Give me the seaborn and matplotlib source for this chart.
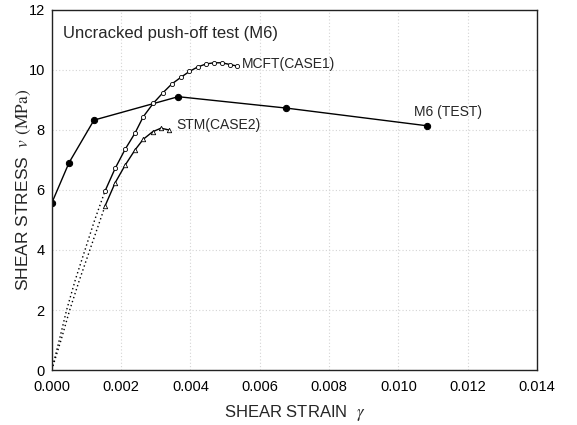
import matplotlib
matplotlib.use("Agg")
import matplotlib.pyplot as plt
import seaborn as sns
import pandas as pd

# M6 test
m6_strain = [0.0, 0.0005, 0.00122, 0.00365, 0.00677, 0.01083]
m6_stress = [5.56, 6.91, 8.33, 9.11, 8.73, 8.14]

# MCFT (CASE1)
mcft_strain = [0.00154, 0.00183, 0.00212, 0.00240, 0.00264, 0.00293, 0.00320, 0.00346,
               0.00372, 0.00397, 0.00421, 0.00445, 0.00468, 0.00491, 0.00515, 0.00535]
mcft_stress = [5.97, 6.72, 7.36, 7.89, 8.44, 8.89, 9.23, 9.53,
               9.75, 9.95, 10.10, 10.20, 10.24, 10.24, 10.18, 10.13]

# STM (CASE2)
stm_strain = [0.00154, 0.00183, 0.00212, 0.00240, 0.00264, 0.00291, 0.00315, 0.00339]
stm_stress = [5.47, 6.24, 6.83, 7.33, 7.69, 7.94, 8.06, 8.00]

# dotted pre-cracking branches
pre1_strain = [0.0, 0.00022, 0.00043, 0.00068, 0.00096, 0.00124, 0.00154]
pre1_stress = [0.0, 1.0, 2.0, 3.0, 4.0, 5.0, 5.97]
pre2_strain = [0.0, 0.00027, 0.00052, 0.00080, 0.00110, 0.00140, 0.00154]
pre2_stress = [0.0, 1.0, 2.0, 3.0, 4.0, 5.0, 5.47]

x_ticks = [0.000, 0.002, 0.004, 0.006, 0.008, 0.010, 0.012, 0.014]
y_ticks = [0, 2, 4, 6, 8, 10, 12]

sns.set_theme(style="white")
plt.rcParams['font.family'] = ['Liberation Sans', 'DejaVu Sans']
plt.rcParams['mathtext.fontset'] = 'stix'

fig = plt.figure(figsize=(5.77, 4.25), dpi=100)
ax = fig.add_axes([0.0896, 0.1294, 0.8411, 0.8471])

df_m6 = pd.DataFrame({"x": m6_strain, "y": m6_stress})
df_mcft = pd.DataFrame({"x": mcft_strain, "y": mcft_stress})
df_stm = pd.DataFrame({"x": stm_strain, "y": stm_stress})
df_p1 = pd.DataFrame({"x": pre1_strain, "y": pre1_stress})
df_p2 = pd.DataFrame({"x": pre2_strain, "y": pre2_stress})

sns.lineplot(data=df_p1, x="x", y="y", sort=False, ax=ax, color="black",
             linestyle=(0, (1, 2)), linewidth=1.0, estimator=None)
sns.lineplot(data=df_p2, x="x", y="y", sort=False, ax=ax, color="black",
             linestyle=(0, (1, 2)), linewidth=1.0, estimator=None)
sns.lineplot(data=df_m6, x="x", y="y", sort=False, ax=ax, color="black",
             linewidth=1.0, marker="o", markersize=4.5, markerfacecolor="black",
             markeredgecolor="black", estimator=None)
sns.lineplot(data=df_mcft, x="x", y="y", sort=False, ax=ax, color="black",
             linewidth=1.0, marker="o", markersize=3, markerfacecolor="white",
             markeredgecolor="black", markeredgewidth=0.6, estimator=None)
sns.lineplot(data=df_stm, x="x", y="y", sort=False, ax=ax, color="black",
             linewidth=1.0, marker="^", markersize=3.2, markerfacecolor="white",
             markeredgecolor="black", markeredgewidth=0.6, estimator=None)

ax.set_xlim(0, 0.014)
ax.set_ylim(0, 12)
ax.set_xticks(x_ticks)
ax.set_xticklabels([f"{t:.3f}" for t in x_ticks], fontsize=10.5)
ax.set_yticks(y_ticks)
ax.set_yticklabels([str(t) for t in y_ticks], fontsize=10.5)
ax.tick_params(direction="in", length=4, width=1, colors="#333333", labelcolor="black",
               pad=5)
ax.tick_params(axis="x", pad=7)
ax.grid(True, linestyle=(0, (1, 2)), color="#d4d4d4", linewidth=0.8)
for s in ax.spines.values():
    s.set_visible(True)
    s.set_color("#222222")
    s.set_linewidth(1.0)

ax.set_xlabel(r"SHEAR STRAIN  $\gamma$", fontsize=12, labelpad=7)
ax.set_ylabel(r"SHEAR STRESS  $v$ $\mathrm{(MPa)}$", fontsize=12.5, labelpad=-3)

ax.text(0.023, 0.936, "Uncracked push-off test (M6)", transform=ax.transAxes,
        fontsize=12, ha="left", va="center")
ax.text(0.00549, 10.2, "MCFT(CASE1)", fontsize=10, ha="left", va="center")
ax.text(0.00359, 8.18, "STM(CASE2)", fontsize=10, ha="left", va="center")
ax.text(0.01045, 8.6, "M6 (TEST)", fontsize=10, ha="left", va="center")

fig.savefig("out.png", dpi=100)
